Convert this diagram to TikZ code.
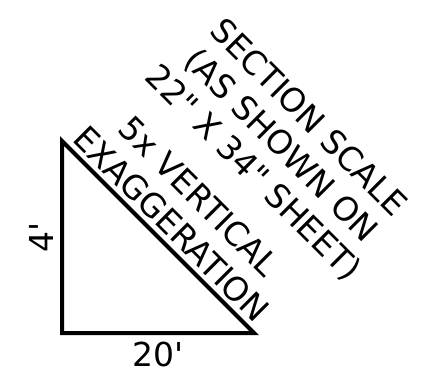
\documentclass[tikz,border=0pt]{standalone}
\usepackage{fontspec}
\setmainfont{DejaVu Sans}
\tikzset{
  lbl/.style={inner sep=0pt, anchor=base, font=\fontsize{33}{38}\selectfont},
  edge/.style={line width=4pt}
}
\begin{document}
\begin{tikzpicture}[x=1pt,y=-1pt]
\useasboundingbox (0,0) rectangle (427,380);
\coordinate (A) at (62,141);
\coordinate (B) at (62,333);
\coordinate (C) at (254,333);
\draw[edge] (A) -- (B) -- (C) -- cycle;
\node[lbl, rotate=90] (vert) at (53,237) {4\textquotesingle};
\node[lbl] (horiz) at (158,366) {20\textquotesingle};
\node[lbl, rotate=-45] (ex1) at (163.0,232.3) {EXAGGERATION};
\node[lbl, rotate=-45] (ex2) at (190.6,204.7) {5x VERTICAL};
\node[lbl, rotate=-45] (sc3) at (245.7,180.7) {22\textquotedbl{} X 34\textquotedbl{} SHEET)};
\node[lbl, rotate=-45] (sc2) at (273.3,153.1) {(AS SHOWN ON};
\node[lbl, rotate=-45] (sc1) at (300.9,125.5) {SECTION SCALE};
\end{tikzpicture}
\end{document}
